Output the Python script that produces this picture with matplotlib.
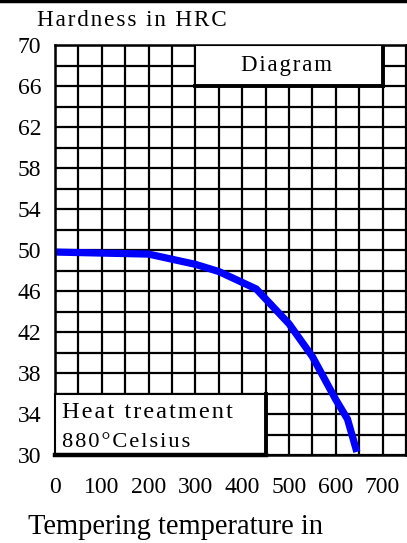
import matplotlib
matplotlib.use("Agg")
import matplotlib.pyplot as plt
from matplotlib.patches import Rectangle
from matplotlib.lines import Line2D
import numpy as np

# Data
temperature = [0, 200, 300, 350, 430, 500, 550, 600, 625, 645]
hardness = [49.8, 49.6, 48.6, 47.9, 46.2, 42.8, 39.6, 35.4, 33.5, 30.3]
y_ticks = [30, 34, 38, 42, 46, 50, 54, 58, 62, 66, 70]
x_ticks = [0, 100, 200, 300, 400, 500, 600, 700]
x_tick_labels = ["0", "100", "200", "300", "400", "500", "600", "700"]

W, H = 407, 543
fig = plt.figure(figsize=(W / 100, H / 100), dpi=100)
renderer = fig.canvas.get_renderer()
L, R, T, B = 55, 406, 45, 455
ax = fig.add_axes([L / W, 1 - B / H, (R - L) / W, (B - T) / H])

serif = ["Liberation Serif", "DejaVu Serif"]
SPACERS = ["", "\u200a", "\u2009"]


def fitted(s, size, target):
    """Pick letter spacing and a font size near `size` giving width `target`."""
    best = (s, size, 1e9)
    for sp in SPACERS:
        cand = sp.join(s)
        t = fig.text(0, 0, cand, fontfamily=serif, fontsize=size)
        w = t.get_window_extent(renderer).width
        t.remove()
        fs = size * target / w
        if abs(fs - size) < best[2]:
            best = (cand, fs, abs(fs - size))
    return best[0], best[1]


ax.set_xlim(0, 750)
ax.set_ylim(30, 70)
ax.set_xticks(x_ticks)
ax.set_xticklabels(x_tick_labels, fontfamily=serif, fontsize=17)
ax.set_xticks(np.arange(0, 751, 50), minor=True)
ax.set_yticks(y_ticks)
ax.set_yticklabels([str(v) for v in y_ticks], fontfamily=serif, fontsize=17)
ax.set_yticks(np.arange(30, 71, 2), minor=True)
ax.tick_params(which="both", length=0)
ax.tick_params(axis="y", pad=10)
ax.tick_params(axis="x", pad=16)
ax.grid(which="both", color="black", linewidth=1.6)
ax.set_axisbelow(True)
for s in ax.spines.values():
    s.set_linewidth(1.8)
    s.set_color("black")

ax.plot(temperature, hardness, color="#0000ff", linewidth=5.2, zorder=2,
        solid_capstyle="butt", solid_joinstyle="miter")

# Diagram box
ax.add_patch(Rectangle((300, 66), 400, 4, facecolor="white", edgecolor="black",
                       linewidth=1.5, zorder=3))
ax.plot([700, 700], [66, 70], color="black", linewidth=2.8, zorder=4)
ax.plot([300, 700], [66, 66], color="black", linewidth=2.8, zorder=4)
txt, fs = fitted("Diagram", 17, 92)
ax.text(495, 68, txt, ha="center", va="center", fontfamily=serif, fontsize=fs,
        zorder=5)

# Heat treatment box
ax.add_patch(Rectangle((0, 30), 450, 6, facecolor="white", edgecolor="black",
                       linewidth=1.5, zorder=3, clip_on=False))
ax.plot([450, 450], [30, 36], color="black", linewidth=2.8, zorder=4)
ax.plot([0, 450], [30, 30], color="black", linewidth=3.2, zorder=4, clip_on=False)
txt, fs = fitted("Heat treatment", 17, 171)
ax.text(15, 34.1, txt, ha="left", va="center", fontfamily=serif, fontsize=fs,
        zorder=5)
txt, fs = fitted("880°Celsius", 17, 128)
ax.text(15, 31.2, txt, ha="left", va="center", fontfamily=serif, fontsize=fs,
        zorder=5)

txt, fs = fitted("Hardness in HRC", 15.5, 189)
fig.text(37 / W, 1 - 20 / H, txt, ha="left", va="center", fontfamily=serif,
         fontsize=fs)
txt, fs = fitted("Tempering temperature in", 19.5, 296)
fig.text(28 / W, 1 - 527 / H, txt, ha="left", va="center", fontfamily=serif,
         fontsize=fs)

fig.add_artist(Line2D([0, 1], [1 - 1 / H, 1 - 1 / H], transform=fig.transFigure,
                      color="black", linewidth=2.5))

fig.savefig("out.png", dpi=100)
